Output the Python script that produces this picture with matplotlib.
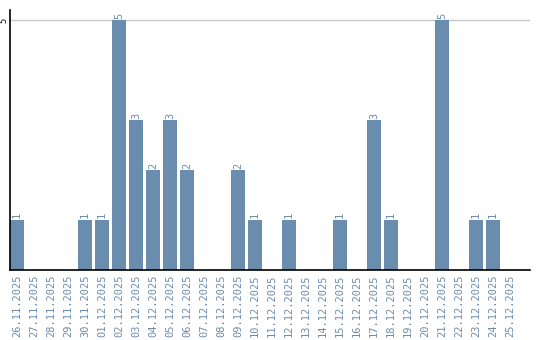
import numpy as np
import matplotlib
matplotlib.use("Agg")
import matplotlib.pyplot as plt

dates = ["26.11.2025", "27.11.2025", "28.11.2025", "29.11.2025", "30.11.2025",
         "01.12.2025", "02.12.2025", "03.12.2025", "04.12.2025", "05.12.2025",
         "06.12.2025", "07.12.2025", "08.12.2025", "09.12.2025", "10.12.2025",
         "11.12.2025", "12.12.2025", "13.12.2025", "14.12.2025", "15.12.2025",
         "16.12.2025", "17.12.2025", "18.12.2025", "19.12.2025", "20.12.2025",
         "21.12.2025", "22.12.2025", "23.12.2025", "24.12.2025", "25.12.2025"]
counts = [1, 0, 0, 0, 1, 1, 5, 3, 2, 3, 2, 0, 0, 2, 1,
          0, 1, 0, 0, 1, 0, 3, 1, 0, 0, 5, 0, 1, 1, 0]

bar_color = "#6a8caf"
label_color = "#6a8caf"

fig = plt.figure(figsize=(5.4, 3.4), dpi=100)
ax = fig.add_axes([10/540, 70/340, 520/540, 260/340])

x = np.arange(len(dates))
ax.bar(x, counts, width=0.82, color=bar_color, zorder=2)

for xi, v in zip(x, counts):
    if v > 0:
        ax.text(xi, v + 0.03, str(v), rotation=90, ha="center", va="bottom",
                color=label_color, fontsize=7.5, family="DejaVu Sans Mono")

# 17 px per slot on a 520 px wide axis
ax.set_xlim(-0.41, -0.41 + 520 / 17)
ax.set_ylim(0, 5.2)
ax.axhline(5, color="#c8c8c8", lw=1, zorder=1)

ax.set_xticks(x)
ax.set_xticklabels(dates, rotation=90, color=label_color, fontsize=7.5,
                   family="DejaVu Sans Mono")
ax.set_yticks([5])
ax.set_yticklabels(["5"], rotation=90, fontsize=6, va="center")
ax.tick_params(axis="x", length=0, pad=3)
ax.tick_params(axis="y", length=0, pad=1)

for s in ["top", "right"]:
    ax.spines[s].set_visible(False)
ax.spines["left"].set_linewidth(1.2)
ax.spines["bottom"].set_linewidth(1.2)

fig.savefig("out.png", dpi=100)
